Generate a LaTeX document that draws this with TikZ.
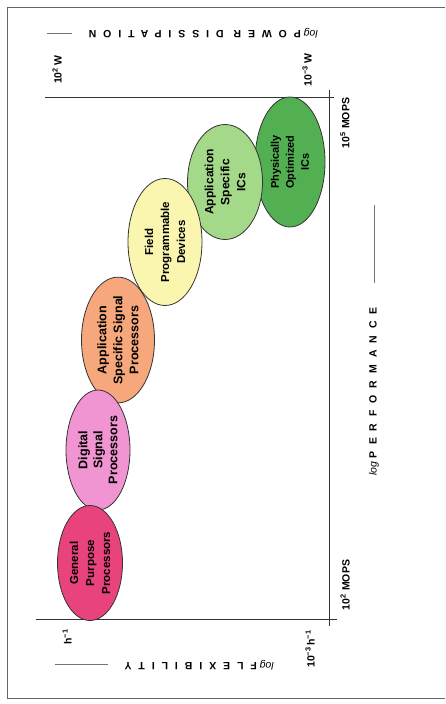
\documentclass[tikz,border=0pt]{standalone}
\usepackage{fontspec}
\setmainfont{Liberation Sans}
\newfontfamily\spacedfont[LetterSpace=66]{Liberation Sans}
\usetikzlibrary{shapes.geometric}
\definecolor{gppc}{HTML}{E8437C}
\definecolor{dspc}{HTML}{F094D2}
\definecolor{asspc}{HTML}{F6A87C}
\definecolor{fpdc}{HTML}{FAF6B0}
\definecolor{asicc}{HTML}{A5D98A}
\definecolor{poicc}{HTML}{52B052}
\begin{document}
\begin{tikzpicture}[x=1pt,y=-1pt,
  blob/.style={ellipse, draw=black!80, line width=0.8pt, rotate=90, align=center, inner sep=0pt, font=\bfseries\fontsize{11.5}{16}\selectfont},
  tick/.style={rotate=90, font=\bfseries\fontsize{10.5}{12}\selectfont, inner sep=0pt},
  axlabel/.style={font=\fontsize{10.5}{12}\selectfont, inner sep=0pt},
  axisline/.style={draw=black!80, line width=0.9pt},
  dashline/.style={draw=black!55, line width=1pt}]
\useasboundingbox (0,0) rectangle (445,704);
% frame
\coordinate (f1) at (445,7); \coordinate (f2) at (7,7);
\coordinate (f3) at (7,698); \coordinate (f4) at (445,698);
\draw[black!60, line width=0.8pt] (f1) -- (f2) -- (f3) -- (f4);
% axes
\coordinate (tl) at (45,97); \coordinate (tr) at (334,97);
\coordinate (vt) at (329,90); \coordinate (vb) at (329,626);
\coordinate (bl) at (36,619); \coordinate (br) at (337,619);
\draw[axisline] (tl) -- (tr);
\draw[axisline] (vt) -- (vb);
\draw[axisline] (bl) -- (br);
% ellipses
\node[blob, fill=poicc, minimum width=130pt, minimum height=70pt, font=\bfseries\fontsize{11}{15}\selectfont] (poic) at (290,162) {Physically\\Optimized\\ICs};
\node[blob, fill=asicc, minimum width=115pt, minimum height=75pt, font=\bfseries\fontsize{12}{16}\selectfont] (asic) at (225,182) {Application\\Specific\\ICs};
\node[blob, fill=fpdc, minimum width=127pt, minimum height=74pt] (fpd) at (165,242) {Field\\Programmable\\Devices};
\node[blob, fill=asspc, minimum width=116pt, minimum height=73pt, font=\bfseries\fontsize{12.5}{16}\selectfont] (assp) at (118,340) {Application\\Specific Signal\\Processors};
\node[blob, fill=dspc, minimum width=120pt, minimum height=64pt, font=\bfseries\fontsize{12.5}{15}\selectfont] (dsp) at (98,450) {Digital\\Signal\\Processors};
\node[blob, fill=gppc, minimum width=115pt, minimum height=65pt] (gpp) at (90,563) {General\\Purpose\\Processors};
% tick labels
\node[tick] (w2) at (57,70) {10\textsuperscript{2}\,W};
\node[tick] (w3) at (307,70) {10\textsuperscript{−3}\,W};
\node[tick] (h1) at (67,637) {h\textsuperscript{−1}};
\node[tick] (h3) at (310,649) {10\textsuperscript{−3}\,h\textsuperscript{−1}};
\node[tick] (m2) at (345,585) {10\textsuperscript{2} MOPS};
\node[tick] (m5) at (345,123) {10\textsuperscript{5} MOPS};
% axis labels
\node[axlabel, rotate=180, anchor=west] (pd) at (318,33) {\textit{log} \spacedfont\bfseries POWER DISSIPATION};
\coordinate (pda) at (47,33); \coordinate (pdb) at (72,33);
\draw[dashline] (pda) -- (pdb);
\node[axlabel, rotate=180, anchor=west] (fx) at (274,665) {\textit{log} \spacedfont\bfseries FLEXIBILITY};
\coordinate (fxa) at (55,664); \coordinate (fxb) at (108,664);
\draw[dashline] (fxa) -- (fxb);
\node[axlabel, rotate=90, anchor=west] (pf) at (374,476) {\textit{log} \spacedfont\bfseries PERFORMANCE};
\coordinate (pfa) at (374,205); \coordinate (pfb) at (374,283);
\draw[dashline] (pfa) -- (pfb);
\end{tikzpicture}
\end{document}
